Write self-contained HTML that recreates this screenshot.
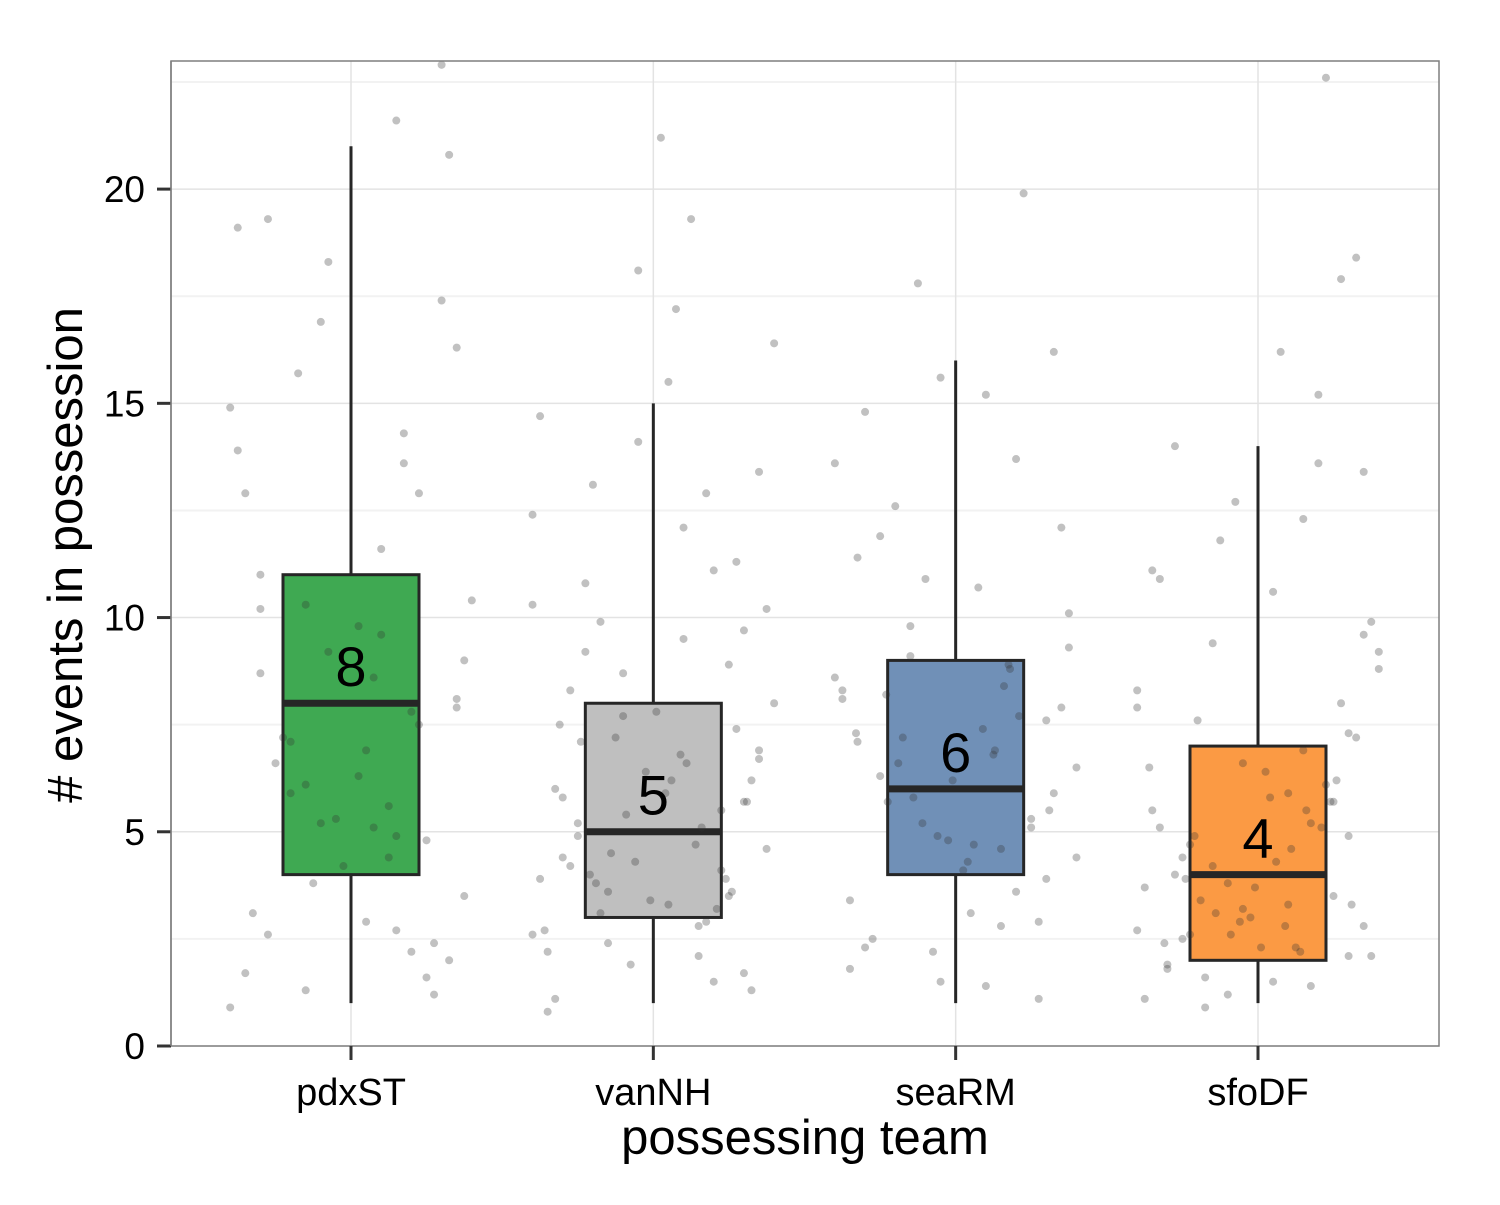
<!DOCTYPE html>
<html><head><meta charset="utf-8"><style>
body{margin:0;background:#fff}
svg text{font-family:"Liberation Sans",Arial,sans-serif}
</style></head><body>
<svg id="chart" width="1500" height="1200" xmlns="http://www.w3.org/2000/svg">
<rect x="0" y="0" width="1500" height="1200" fill="#fff"/>
<g id="grid"></g>
<g id="boxes"></g>
<g id="points"></g>
<g id="labels"></g>
<rect x="171" y="61" width="1268" height="985" fill="none" stroke="#7f7f7f" stroke-width="1.5"/>
<g id="axes"></g>
<text x="805" y="1154" font-size="49" text-anchor="middle">possessing team</text>
<text transform="translate(82,555) rotate(-90)" font-size="49" text-anchor="middle"># events in possession</text>
</svg>
<script>
const categories=["pdxST","vanNH","seaRM","sfoDF"];
const colors=["#3fa952","#bfbfbf","#7090b7","#fb9a44"];
const q1=[4,3,4,2];
const medians=[8,5,6,4];
const q3=[11,8,9,7];
const whiskLo=[1,1,1,1];
const whiskHi=[21,15,16,14];
const yTicks=[0,5,10,15,20];
const yMinor=[2.5,7.5,12.5,17.5,22.5];
const ptsDx=[
[-.75,.3,-.6,.7,-.2,.5,-.8,.1,.65,-.45,.35,-.7,.2,-.3,.75,-.55,.6,-.1,.45,-.65,.05,.55,-.35,.7,-.8,.25,-.15,.4,-.5,.8,-.25,.6,.15,-.7,.5,-.4,.3,-.6,.7,-.05,.45,-.75,.2,.65,-.3,.1,-.55,.75,-.2,.35,-.4,.25,-.15,.3,.05,-.6,.55,-.3,.15,.4],
[-.8,.7,-.6,.5,-.3,.2,-.7,.6,-.1,.4,-.5,.8,-.2,.3,-.75,.65,-.45,.1,-.65,.55,-.35,.75,-.05,.45,-.55,.25,-.8,.6,-.25,.35,-.7,.15,.5,-.4,.7,-.15,.05,-.6,.8,-.3,.4,-.5,.2,.65,-.75,.55,-.1,.3,-.65,.75,-.45,.1,.6,-.2,.45,-.8,.35,-.35,.7,-.55,-.12,.22,-.38,.08,.28,-.48,.42,-.18,.12,-.28,.52,-.62,.32,-.02,.18,-.42,.62,-.72,.02,.48],
[-.8,.7,-.6,.5,-.3,.2,-.7,.6,-.1,.4,-.5,.8,-.2,.3,-.75,.65,-.45,.1,-.65,.55,-.35,.75,-.05,.45,-.55,.25,-.8,.6,-.25,.35,-.7,.15,.5,-.4,.7,-.15,.05,-.6,.8,-.3,.4,-.5,.2,.65,-.75,.55,-.1,.3,-.65,.75,-.22,.18,-.38,.32,.08,-.28,.42,-.12,.26,-.46,.62,-.66,.12,-.02,.36],
[-.8,.7,-.6,.5,-.3,.2,-.7,.6,-.1,.4,-.5,.8,-.2,.3,-.75,.65,-.45,.1,-.65,.55,-.35,.75,-.05,.45,-.55,.25,-.8,.6,-.25,.35,-.7,.15,.5,-.4,.7,-.15,.05,-.6,.8,-.3,.4,-.5,.2,.65,-.75,.55,-.1,.3,-.65,.75,-.45,.1,.6,-.2,.45,-.8,.35,-.35,.7,-.55,-.12,.22,-.38,.08,.28,-.48,.42,-.18,.12,-.28,.52,-.62,.32,-.02,.18,-.42,.62,-.72,.02,.48]];
const ptsY=[
[19.1,21.6,10.2,8.1,16.9,4.8,14.9,2.9,20.8,7.2,13.6,1.7,11.6,6.1,9,2.6,17.4,5.3,12.9,3.1,9.8,1.2,15.7,7.9,0.9,4.4,18.3,2.2,6.6,10.4,3.8,22.9,8.6,12.9,1.6,5.9,2.7,11,16.3,4.2,7.5,13.9,9.6,2,1.3,6.9,19.3,3.5,5.2,14.3,7.1,5.6,9.2,4.9,6.3,8.7,2.4,10.3,5.1,7.8],
[10.3,13.4,5.8,8.9,3.6,12.1,2.2,9.7,18.1,1.5,4.9,16.4,7.7,2.8,14.7,6.2,9.2,15.5,1.1,11.3,3.1,10.2,6.4,4.1,8.3,19.3,2.6,5.7,7.2,12.9,0.8,17.2,3.5,13.1,6.9,1.9,21.2,4.4,8,2.4,11.1,5.2,9.5,1.3,3.9,7.4,14.1,2.1,6,4.6,10.8,3.3,1.7,8.7,5.5,12.4,2.9,9.9,6.7,4.2,4.3,6.6,3.8,5.9,4.7,7.1,3.2,5.4,6.2,4.5,3.6,7.5,5.1,3.4,6.8,4,5.7,2.7,7.8,3.9],
[8.6,12.1,2.3,5.1,9.8,15.2,3.4,7.6,1.5,13.7,6.3,4.4,10.9,2.8,8.1,16.2,5.7,3.1,11.4,1.1,7.2,9.3,4.8,19.9,2.5,6.8,13.6,3.9,17.8,8.9,1.8,10.7,5.3,12.6,7.9,2.2,4.1,14.8,6.5,9.1,3.6,11.9,1.4,5.9,8.3,2.9,15.6,4.6,7.1,10.1,5.2,7.4,6.6,8.4,4.3,5.8,7.7,4.9,6.9,8.2,5.5,7.3,4.7,6.2,8.8],
[7.9,13.4,1.8,5.7,9.4,3.3,11.1,2.1,6.6,15.2,4.4,8.8,1.2,12.3,3.7,7.2,2.6,10.6,5.1,17.9,1.6,9.9,3,6.1,14,2.3,8.3,4.9,11.8,1.4,5.5,16.2,3.5,7.6,2.8,12.7,6.4,1.9,9.2,4.2,13.6,2.5,5.9,18.4,1.1,8,3.2,6.9,10.9,2.1,4.7,1.5,7.3,3.8,22.6,2.7,5.2,0.9,9.6,4,2.9,4.6,3.4,5.8,2.2,3.9,5.1,2.6,4.3,3.1,6.2,2.4,5.5,3.7,2.8,4.9,3.3,6.5,2.3,5.7]];
const NS="http://www.w3.org/2000/svg";
const X0=171,X1=1439,Y0=1046,Y1=61,YMAX=22.99;
function xPos(i){return 351+i*(1258-351)/3;}
function yPos(v){return Y0-(Y0-Y1)*v/YMAX;}
function mk(tag,attrs,parent){const e=document.createElementNS(NS,tag);for(const k in attrs)e.setAttribute(k,attrs[k]);parent.appendChild(e);return e;}
const grid=document.getElementById('grid'),pts=document.getElementById('points'),boxes=document.getElementById('boxes'),axes=document.getElementById('axes'),labels=document.getElementById('labels');
yMinor.forEach(v=>{if(v<YMAX){const l=mk('line',{x1:X0,x2:X1,y1:yPos(v),y2:yPos(v),stroke:'#f2f2f2','stroke-width':2},grid);

}});
yTicks.forEach(v=>{const l=mk('line',{x1:X0,x2:X1,y1:yPos(v),y2:yPos(v),stroke:'#e3e3e3','stroke-width':1.5},grid);


const t=mk('line',{x1:X0-14,x2:X0,y1:yPos(v),y2:yPos(v),stroke:'#333','stroke-width':3},axes);


const tx=mk('text',{x:X0-26,y:yPos(v)+13,'font-size':37,'text-anchor':'end',fill:'#000'},axes);tx.textContent=v;

});
categories.forEach((c,i)=>{const x=xPos(i);
const g=mk('line',{x1:x,x2:x,y1:Y1,y2:Y0,stroke:'#e3e3e3','stroke-width':1.5},grid);


const t=mk('line',{x1:x,x2:x,y1:Y0,y2:Y0+14,stroke:'#333','stroke-width':3},axes);


const tx=mk('text',{x:x,y:1105,'font-size':38,'text-anchor':'middle'},axes);tx.textContent=c;


const w=mk('line',{x1:x,x2:x,y1:yPos(whiskLo[i]),y2:yPos(whiskHi[i]),stroke:'#262626','stroke-width':3},boxes);


const b=mk('rect',{x:x-68,y:yPos(q3[i]),width:136,height:yPos(q1[i])-yPos(q3[i]),fill:colors[i],stroke:'#262626','stroke-width':3},boxes);


const m=mk('line',{x1:x-68,x2:x+68,y1:yPos(medians[i]),y2:yPos(medians[i]),stroke:'#262626','stroke-width':7},boxes);


const lb=mk('text',{x:x,y:yPos(medians[i]+0.4),'font-size':56,'text-anchor':'middle'},labels);lb.textContent=medians[i];


ptsY[i].forEach((v,j)=>{const p=mk('circle',{cx:x+ptsDx[i][j]*151,cy:yPos(v),r:4,fill:'#333','fill-opacity':0.3},pts);

});});
const yl=mk('line',{x1:X0,x2:X0,y1:Y1,y2:Y0,stroke:'#7f7f7f','stroke-width':1.5},axes);


</script>
</body></html>
